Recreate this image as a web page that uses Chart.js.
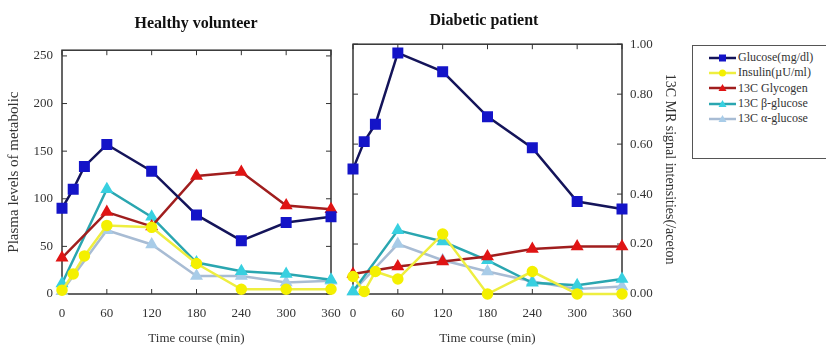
<!DOCTYPE html>
<html>
<head>
<meta charset="utf-8">
<script src="https://cdn.jsdelivr.net/npm/chart.js@4"></script>
<style>
    body { margin: 0; background: #fff; }
    #wrap { position: relative; width: 826px; height: 348px; overflow: hidden; font-family: 'Liberation Serif', 'Times New Roman', serif; }
    #cHealthy { position: absolute; left: 0; top: 0; }
    #cDiabetic { position: absolute; left: 280px; top: 0; }
    #legend { position: absolute; left: 692px; top: 45px; width: 140px; height: 114px; border: 1px solid #555; box-sizing: border-box; padding: 4px 0 0 16px; }
    .item { display: flex; align-items: center; height: 15.3px; font-size: 12px; color: #333; }
    .item svg { margin-right: 2px; }
</style>
</head>
<body>
<div id="wrap">
    <canvas id="cHealthy" width="392" height="348"></canvas>
    <canvas id="cDiabetic" width="408" height="348"></canvas>
    <div id="legend"></div>
</div>
<script>
// time points (min)
const timesFull = [0, 15, 30, 60, 120, 180, 240, 300, 360];
const timesMain = [0, 60, 120, 180, 240, 300, 360];
const xTicks = [0, 60, 120, 180, 240, 300, 360];
const yTicksHealthy = [0, 50, 100, 150, 200, 250];

const seriesNames = ['Glucose(mg/dl)', 'Insulin(\u00b5U/ml)', '13C Glycogen', '13C \u03b2-glucose', '13C \u03b1-glucose'];

// Healthy volunteer (plasma levels)
const hGlucose = [90, 110, 134, 157, 129, 83, 56, 75, 81];       // timesFull
const hInsulin = [4, 21, 40, 72, 70, 32, 5, 5, 5];              // timesFull
const hGlycogen = [38, 86, 71, 124, 128, 93, 89];               // timesMain
const hBeta = [11, 110, 81, 33, 24, 21, 15];                    // timesMain
const hAlpha = [3, 67, 52, 19, 19, 12, 14];                     // timesMain

// Diabetic patient (13C MR signal intensities)
const dGlucose = [0.50, 0.61, 0.68, 0.965, 0.89, 0.71, 0.585, 0.37, 0.34];
const dInsulin = [0.07, 0.01, 0.09, 0.06, 0.24, 0.0, 0.09, 0.0, 0.0];
const dGlycogen = [0.08, 0.11, 0.13, 0.15, 0.18, 0.19, 0.19];
const dBeta = [0.01, 0.255, 0.21, 0.135, 0.045, 0.035, 0.06];
const dAlpha = [0.01, 0.20, 0.135, 0.09, 0.05, 0.02, 0.03];

const styles = [
    { line: '#14145a', fill: '#1414c8', shape: 'rect', r: 6 },
    { line: '#eeee40', fill: '#f4f000', shape: 'circle', r: 4.5 },
    { line: '#a01e1e', fill: '#e01414', shape: 'triangle', r: 5 },
    { line: '#2aa6b0', fill: '#38d0e0', shape: 'triangle', r: 5 },
    { line: '#a8bcd4', fill: '#a8cce8', shape: 'triangle', r: 5 }
];

const FONT = "'Liberation Serif', 'Times New Roman', serif";

function pts(xs, ys) {
    return xs.map((x, i) => ({ x, y: ys[i] }));
}

function makeDatasets(list) {
    return list.map((d, i) => ({
        label: seriesNames[i],
        data: d,
        borderColor: styles[i].line,
        backgroundColor: styles[i].fill,
        pointBackgroundColor: styles[i].fill,
        pointBorderColor: styles[i].fill,
        pointStyle: styles[i].shape,
        pointRadius: styles[i].r,
        borderWidth: 2.5,
        tension: 0,
        clip: false
    }));
}

// empty axis that only reserves room, so the title stays centred on the canvas
function spacer(position, width) {
    return {
        type: 'linear',
        position,
        min: 0,
        max: 1,
        afterFit: s => { s.width = width; },
        grid: { display: false, drawTicks: false },
        border: { display: false },
        ticks: { display: false }
    };
}

// frame with inward tick marks on all four sides
const framePlugin = {
    id: 'frame',
    beforeDatasetsDraw(chart) {
        const { ctx, chartArea: a, scales } = chart;
        ctx.save();
        ctx.strokeStyle = '#333';
        ctx.lineWidth = 1.5;
        ctx.strokeRect(a.left, a.top, a.right - a.left, a.bottom - a.top);
        ctx.lineWidth = 1;
        ctx.beginPath();
        scales.x.ticks.forEach(t => {
            const px = scales.x.getPixelForValue(t.value);
            ctx.moveTo(px, a.bottom); ctx.lineTo(px, a.bottom - 5);
            ctx.moveTo(px, a.top); ctx.lineTo(px, a.top + 5);
        });
        scales.y.ticks.forEach(t => {
            const py = scales.y.getPixelForValue(t.value);
            ctx.moveTo(a.left, py); ctx.lineTo(a.left + 5, py);
            ctx.moveTo(a.right, py); ctx.lineTo(a.right - 5, py);
        });
        ctx.stroke();
        ctx.restore();
    }
};

const xScale = {
    type: 'linear',
    min: 0,
    max: 360,
    afterBuildTicks: s => { s.ticks = xTicks.map(v => ({ value: v })); },
    afterFit: s => { s.height = 54; },
    grid: { display: false, drawTicks: false },
    border: { display: false },
    ticks: { padding: 12, color: '#333', font: { family: FONT, size: 13 } },
    title: { display: true, text: 'Time course (min)', color: '#333', padding: { top: 0, bottom: 2 }, font: { family: FONT, size: 13 } }
};

new Chart(document.getElementById('cHealthy'), {
    type: 'line',
    data: {
        datasets: makeDatasets([
            pts(timesFull, hGlucose), pts(timesFull, hInsulin), pts(timesMain, hGlycogen),
            pts(timesMain, hBeta), pts(timesMain, hAlpha)
        ])
    },
    options: {
        responsive: false,
        animation: false,
        plugins: {
            legend: { display: false },
            tooltip: { enabled: false },
            title: { display: true, text: 'Healthy volunteer', color: '#111', padding: { top: 14, bottom: 17 }, font: { family: FONT, size: 16, weight: 'bold' } }
        },
        scales: {
            x: xScale,
            y: {
                min: 0,
                max: 256,
                afterBuildTicks: s => { s.ticks = yTicksHealthy.map(v => ({ value: v })); },
                afterFit: s => { s.width = 62; },
                grid: { display: false, drawTicks: false },
                border: { display: false },
                ticks: { padding: 9, color: '#333', font: { family: FONT, size: 13 } },
                title: { display: true, text: 'Plasma levels of metabolic', color: '#333', padding: { top: 5, bottom: 0 }, font: { family: FONT, size: 15 } }
            },
            yr: spacer('right', 61)
        }
    },
    plugins: [framePlugin]
});

new Chart(document.getElementById('cDiabetic'), {
    type: 'line',
    data: {
        datasets: makeDatasets([
            pts(timesFull, dGlucose), pts(timesFull, dInsulin), pts(timesMain, dGlycogen),
            pts(timesMain, dBeta), pts(timesMain, dAlpha)
        ])
    },
    options: {
        responsive: false,
        animation: false,
        plugins: {
            legend: { display: false },
            tooltip: { enabled: false },
            title: { display: true, text: 'Diabetic patient', color: '#111', padding: { top: 11, bottom: 14 }, font: { family: FONT, size: 16, weight: 'bold' } }
        },
        scales: {
            x: xScale,
            y: {
                position: 'right',
                min: 0,
                max: 1,
                afterFit: s => { s.width = 408 - 73 - 269; },
                grid: { display: false, drawTicks: false },
                border: { display: false },
                ticks: { stepSize: 0.2, padding: 8, color: '#333', font: { family: FONT, size: 13 }, callback: v => v.toFixed(2) },
                title: { display: true, text: '13C MR signal intensities(/aceton', color: '#333', padding: { top: 10, bottom: 0 }, font: { family: FONT, size: 14 } }
            },
            yl: spacer('left', 73)
        }
    },
    plugins: [framePlugin]
});

// legend built from the series styles
const legendEl = document.getElementById('legend');
seriesNames.forEach((name, i) => {
    const s = styles[i];
    let marker;
    if (s.shape === 'rect') marker = '<rect x="10" y="3.5" width="7" height="7" fill="' + s.fill + '"/>';
    else if (s.shape === 'circle') marker = '<circle cx="13.5" cy="7" r="3.5" fill="' + s.fill + '"/>';
    else marker = '<polygon points="13.5,3 17.5,10 9.5,10" fill="' + s.fill + '"/>';
    const row = document.createElement('div');
    row.className = 'item';
    row.innerHTML = '<svg width="27" height="14"><line x1="0" y1="7" x2="27" y2="7" stroke="' + s.line + '" stroke-width="2.5"/>' + marker + '</svg>';
    const span = document.createElement('span');
    span.textContent = name;
    row.appendChild(span);
    legendEl.appendChild(row);
});
</script>
</body>
</html>
